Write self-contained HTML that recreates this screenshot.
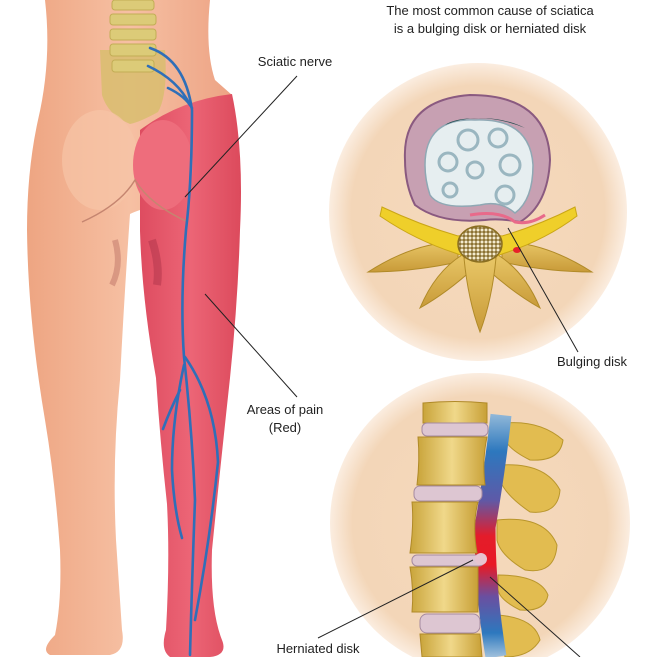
<!DOCTYPE html>
<html><head><meta charset="utf-8"><style>
html,body{margin:0;padding:0;background:#fff;}
svg{display:block;}
text{font-family:"Liberation Sans",sans-serif;fill:#222;}
</style></head><body>
<svg width="657" height="657" viewBox="0 0 657 657" xmlns="http://www.w3.org/2000/svg">
<defs>
<radialGradient id="circ" cx="50%" cy="50%" r="50%">
<stop offset="0" stop-color="#f5d9bc"/><stop offset="0.85" stop-color="#f3d6b8"/><stop offset="1" stop-color="#fbede0"/>
</radialGradient>
<linearGradient id="skin" x1="0" x2="1"><stop offset="0" stop-color="#eea582"/><stop offset="0.5" stop-color="#f6c0a3"/><stop offset="1" stop-color="#eda384"/></linearGradient>
<linearGradient id="red" x1="0" x2="1"><stop offset="0" stop-color="#de4c60"/><stop offset="0.5" stop-color="#ec6576"/><stop offset="1" stop-color="#dc4a5c"/></linearGradient>
<linearGradient id="bone" x1="0" x2="1"><stop offset="0" stop-color="#c9a43a"/><stop offset="0.5" stop-color="#f0d88a"/><stop offset="1" stop-color="#c8a036"/></linearGradient>
<linearGradient id="gold" x1="0" y1="0" x2="0" y2="1"><stop offset="0" stop-color="#e8c666"/><stop offset="1" stop-color="#c89a38"/></linearGradient>
<linearGradient id="cord" x1="0" y1="415" x2="0" y2="657" gradientUnits="userSpaceOnUse"><stop offset="0" stop-color="#8fb7d8"/><stop offset="0.15" stop-color="#2d78be"/><stop offset="0.35" stop-color="#5d5aa8"/><stop offset="0.5" stop-color="#e41c2a"/><stop offset="0.62" stop-color="#e81a25"/><stop offset="0.75" stop-color="#6a4fa0"/><stop offset="0.9" stop-color="#2d78be"/><stop offset="1" stop-color="#9fc0dc"/></linearGradient>
<pattern id="dots" width="4" height="4" patternUnits="userSpaceOnUse"><rect width="4" height="4" fill="#8a7030"/><circle cx="2" cy="2" r="1.5" fill="#f4ecd0"/></pattern>
</defs>
<circle cx="478" cy="212" r="149" fill="url(#circ)"/>
<circle cx="480" cy="523" r="150" fill="url(#circ)"/>

<path d="M45 0 L210 0 Q205 50 215 80 L232 95 L150 130 L140 210 Q134 212 130 214 Q124 300 120 380 Q112 460 116 540 Q120 600 122 630 Q126 652 110 655 L50 655 Q40 650 55 635 Q62 600 60 550 Q55 480 45 420 Q28 320 27 230 Q27 170 38 120 Q52 60 45 0 Z" fill="url(#skin)"/>
<path d="M140 130 Q180 100 232 94 Q244 150 240 230 Q238 300 230 378 Q220 470 212 550 Q210 610 222 640 Q228 655 210 657 L170 657 Q160 650 166 630 Q170 560 167 504 Q160 440 156 378 Q142 300 140 231 Z" fill="url(#red)"/>
<path d="M100 50 L165 50 Q168 95 158 112 Q140 122 130 124 Q108 115 102 95 Z" fill="#d8bd6e" opacity="0.85"/>
<g fill="#dccb78" stroke="#c2ad55" stroke-width="1">
<rect x="112" y="0" width="42" height="10" rx="3"/>
<rect x="110" y="14" width="46" height="11" rx="3"/>
<rect x="110" y="29" width="46" height="11" rx="3"/>
<rect x="110" y="44" width="46" height="12" rx="3"/>
<rect x="112" y="60" width="42" height="12" rx="3"/>
</g>
<ellipse cx="100" cy="160" rx="38" ry="50" fill="#f7c4a6" opacity="0.7"/>
<ellipse cx="163" cy="165" rx="30" ry="45" fill="#ee6d7c"/>
<path d="M82 222 Q120 205 135 180 Q150 205 188 222" fill="none" stroke="#c58570" stroke-width="1.5"/>
<path d="M115 240 Q122 265 112 285" stroke="#b86a60" stroke-width="6" fill="none" opacity="0.45"/>
<path d="M152 240 Q160 265 157 285" stroke="#a83048" stroke-width="8" fill="none" opacity="0.45"/>
<g fill="none" stroke="#2f6fb8" stroke-width="2.6" stroke-linecap="round">
<path d="M150 48 Q185 60 192 110 Q192 180 186 230 Q180 300 184 357 Q192 430 195 500 Q192 580 190 655"/>
<path d="M148 66 Q178 80 190 105"/>
<path d="M168 88 Q185 96 192 108"/>
<path d="M185 357 Q215 400 218 462 Q210 540 195 620"/>
<path d="M184 365 Q172 420 172 470 Q174 510 182 538"/>
<path d="M180 390 Q170 410 163 429"/>
</g>

<!-- top circle: vertebra (axial) -->
<g fill="url(#gold)" stroke="#b08a28" stroke-width="1">
<path d="M458 242 Q415 242 368 272 Q412 272 458 262 Z"/>
<path d="M502 242 Q545 242 592 272 Q548 272 502 262 Z"/>
<path d="M462 255 Q435 272 420 308 Q448 292 474 268 Z"/>
<path d="M498 255 Q525 272 540 308 Q512 292 486 268 Z"/>
<path d="M464 258 Q468 300 480 332 Q492 300 496 258 Z"/>
</g>
<path d="M382 207 Q420 225 458 236 L480 232 L502 236 Q540 225 575 207 L577 216 Q545 240 505 253 L480 262 L455 253 Q415 240 380 216 Z" fill="#efcf2a" stroke="#caa616"/>
<ellipse cx="480" cy="244" rx="22" ry="18" fill="url(#dots)" stroke="#8a6e20" stroke-width="1.5"/>
<ellipse cx="517" cy="250" rx="4" ry="3" fill="#e8202a"/>
<path d="M405 160 Q402 100 470 95 Q548 95 550 160 Q548 205 520 222 Q500 218 485 220 Q440 224 415 205 Q405 185 405 160 Z" fill="#c7a0b2" stroke="#8a5a80" stroke-width="2"/>
<path d="M425 165 Q425 118 475 120 Q530 118 533 165 Q533 200 515 213 Q500 200 480 205 Q440 210 430 195 Q425 180 425 165 Z" fill="#e6eef0" stroke="#8fa8b4" stroke-width="1.5"/>
<path d="M445 125 Q480 110 525 128 Q505 118 480 118 Q455 118 445 125 Z" fill="#1e4a4c"/>
<g fill="none" stroke="#9ab6c0" stroke-width="3">
<circle cx="448" cy="162" r="9"/><circle cx="468" cy="140" r="10"/><circle cx="498" cy="138" r="9"/><circle cx="510" cy="165" r="10"/><circle cx="475" cy="170" r="8"/><circle cx="505" cy="195" r="9"/><circle cx="450" cy="190" r="7"/>
</g>
<path d="M470 215 Q500 210 515 222 Q530 225 545 215" stroke="#e86a8a" stroke-width="3" fill="none"/>

<!-- bottom circle: lateral spine -->
<g fill="#e2bc50" stroke="#b9962c">
<path d="M505 423 Q540 420 563 440 Q560 462 530 460 Q510 450 505 440 Z"/>
<path d="M500 465 Q545 462 560 490 Q558 515 530 512 Q505 495 500 480 Z"/>
<path d="M497 520 Q545 515 557 545 Q555 575 525 570 Q500 555 497 540 Z"/>
<path d="M498 575 Q540 575 548 595 Q545 612 520 610 Q500 600 498 590 Z"/>
<path d="M498 615 Q535 618 540 640 Q530 657 505 657 Z"/>
</g>
<path d="M501 415 Q495 470 485 527 Q485 590 496 657" stroke="url(#cord)" stroke-width="21" fill="none"/>
<g fill="url(#bone)" stroke="#b08a28">
<path d="M423 403 Q455 400 487 403 L487 423 L423 423 Z"/>
<path d="M418 437 L487 437 Q482 460 485 485 L417 485 Q420 460 418 437 Z"/>
<path d="M412 502 L478 502 Q472 525 477 553 L410 553 Q414 525 412 502 Z"/>
<path d="M410 567 L478 567 Q478 590 478 612 L412 612 Q414 590 410 567 Z"/>
<path d="M420 634 L480 634 L482 657 L422 657 Z"/>
</g>
<g fill="#ddc6d2" stroke="#a58aa0">
<rect x="422" y="423" width="66" height="13" rx="5"/>
<rect x="414" y="486" width="68" height="15" rx="6"/>
<rect x="412" y="555" width="72" height="11" rx="5"/>
<rect x="420" y="614" width="60" height="19" rx="7"/>
</g>
<circle cx="481" cy="559" r="6" fill="#e7c4d0"/>

<g stroke="#222" stroke-width="1" fill="none">
<line x1="297" y1="76" x2="185" y2="197"/>
<line x1="297" y1="397" x2="205" y2="294"/>
<line x1="578" y1="352" x2="508" y2="228"/>
<line x1="318" y1="638" x2="473" y2="560"/>
<line x1="580" y1="657" x2="490" y2="577"/>
</g>

<text x="490" y="15" font-size="13" text-anchor="middle">The most common cause of sciatica</text>
<text x="490" y="33" font-size="13" text-anchor="middle">is a bulging disk or herniated disk</text>
<text x="295" y="66" font-size="13" text-anchor="middle">Sciatic nerve</text>
<text x="592" y="366" font-size="13" text-anchor="middle">Bulging disk</text>
<text x="285" y="414" font-size="13" text-anchor="middle">Areas of pain</text>
<text x="285" y="432" font-size="13" text-anchor="middle">(Red)</text>
<text x="318" y="653" font-size="13" text-anchor="middle">Herniated disk</text>
</svg>
</body></html>
